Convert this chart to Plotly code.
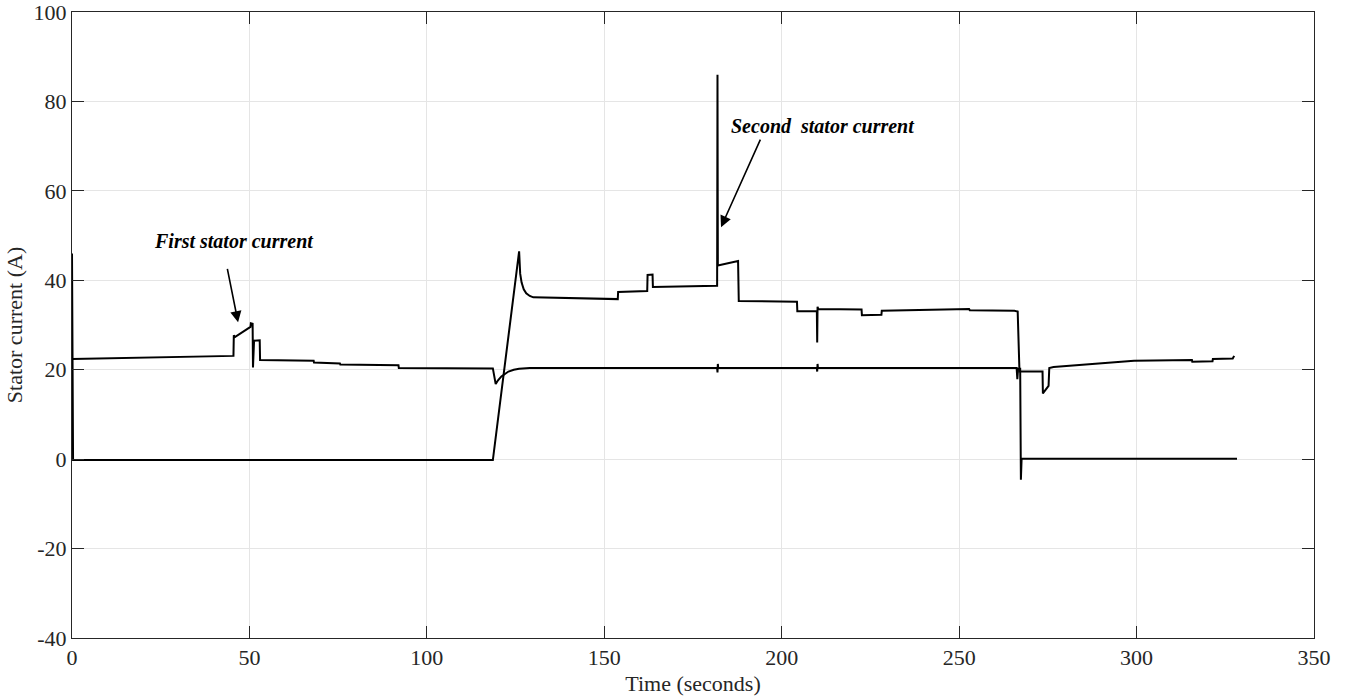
import plotly.graph_objects as go

# First stator current (time s, current A)
t1 = [0.0, 44.5, 45.5, 45.6, 45.9, 50.3, 50.4, 50.9, 51.0, 51.3, 52.9, 53.0,
      68.1, 68.2, 75.5, 75.6, 92.0, 92.1, 118.6, 119.4, 120.0, 121.0, 122.0,
      123.0, 124.5, 126.0, 129.0, 181.8, 181.9, 182.0, 182.1, 209.9, 210.0,
      210.1, 210.2, 266.2, 266.4, 266.6, 267.2, 267.4, 267.6, 328.3]
i1 = [22.4, 23.0, 23.1, 27.7, 27.3, 29.6, 30.4, 30.3, 20.5, 26.5, 26.6, 22.2,
      22.0, 21.6, 21.4, 21.2, 21.0, 20.4, 20.3, 16.8, 17.6, 18.5, 19.1,
      19.6, 20.0, 20.2, 20.4, 20.4, 19.4, 21.3, 20.4, 20.4, 19.6,
      21.3, 20.4, 20.4, 17.9, 20.2, 20.2, -4.6, 0.1, 0.1]

# Second stator current (time s, current A)
t2 = [0.0, 0.3, 118.6, 126.0, 126.3, 126.7, 127.3, 128.0, 129.0, 130.0,
      153.8, 153.9, 162.1, 162.2, 163.6, 163.7, 181.8, 181.9, 182.0, 187.7,
      187.9, 204.3, 204.4, 209.9, 210.0, 210.1, 210.3, 222.5, 222.6, 228.1,
      228.2, 252.8, 253.0, 265.6, 266.5, 267.0, 273.5, 273.6, 275.2, 275.4,
      276.6, 299.3, 315.6, 315.7, 321.4, 321.5, 327.1, 327.5]
i2 = [46.0, -0.2, -0.2, 46.5, 41.5, 39.5, 38.0, 37.1, 36.5, 36.2,
      35.8, 37.4, 37.6, 41.2, 41.3, 38.5, 38.8, 86.0, 43.3, 44.3,
      35.4, 35.2, 33.1, 33.1, 26.1, 34.1, 33.6, 33.5, 32.2, 32.3,
      33.2, 33.6, 33.3, 33.2, 33.0, 19.6, 19.6, 14.7, 16.4, 20.4,
      20.6, 22.0, 22.2, 21.8, 21.9, 22.4, 22.5, 23.1]

x_ticks = [0, 50, 100, 150, 200, 250, 300, 350]
y_ticks = [-40, -20, 0, 20, 40, 60, 80, 100]

FONT = "Liberation Serif"
AX = "#262626"

fig = go.Figure()
fig.add_trace(go.Scatter(x=t1, y=i1, mode="lines", line=dict(color="black", width=2),
                         name="First stator current", showlegend=False))
fig.add_trace(go.Scatter(x=t2, y=i2, mode="lines", line=dict(color="black", width=2),
                         name="Second stator current", showlegend=False))

fig.add_annotation(x=46.8, y=30.6, ax=-11, ay=-55, xref="x", yref="y", text="",
                   showarrow=True, arrowhead=2, arrowsize=1.4, arrowwidth=1.6, arrowcolor="black")
fig.add_annotation(x=182.9, y=51.9, ax=40, ay=-89, xref="x", yref="y", text="",
                   showarrow=True, arrowhead=2, arrowsize=1.4, arrowwidth=1.6, arrowcolor="black")
fig.add_annotation(x=45.6, y=48.9, xref="x", yref="y", showarrow=False,
                   text="<b><i>First stator current</i></b>",
                   font=dict(family=FONT, size=20, color="black"))
fig.add_annotation(x=211.5, y=74.6, xref="x", yref="y", showarrow=False,
                   text="<b><i>Second&nbsp; stator current</i></b>",
                   font=dict(family=FONT, size=20, color="black"))

axis_common = dict(showline=True, linecolor=AX, linewidth=1, mirror="ticks",
                   ticks="inside", tickcolor=AX, ticklen=12, tickwidth=1,
                   showgrid=True, gridcolor="#e5e5e5", gridwidth=1, zeroline=False,
                   automargin=False, ticklabeloverflow="allow",
                   tickfont=dict(family=FONT, size=22, color=AX))

fig.update_xaxes(range=[0, 350], tickvals=x_ticks, ticktext=[str(v) for v in x_ticks],
                 title=dict(text="Time (seconds)", font=dict(family=FONT, size=22, color=AX), standoff=6),
                 **axis_common)
fig.update_yaxes(range=[-40, 100.02], tickvals=y_ticks, ticktext=[str(v) for v in y_ticks],
                 title=dict(text="Stator current (A)", font=dict(family=FONT, size=22, color=AX), standoff=4),
                 **axis_common)

fig.update_layout(width=1345, height=696, plot_bgcolor="white", paper_bgcolor="white",
                  margin=dict(l=72, r=31, t=12, b=58), showlegend=False)

fig.write_html("out.html")
